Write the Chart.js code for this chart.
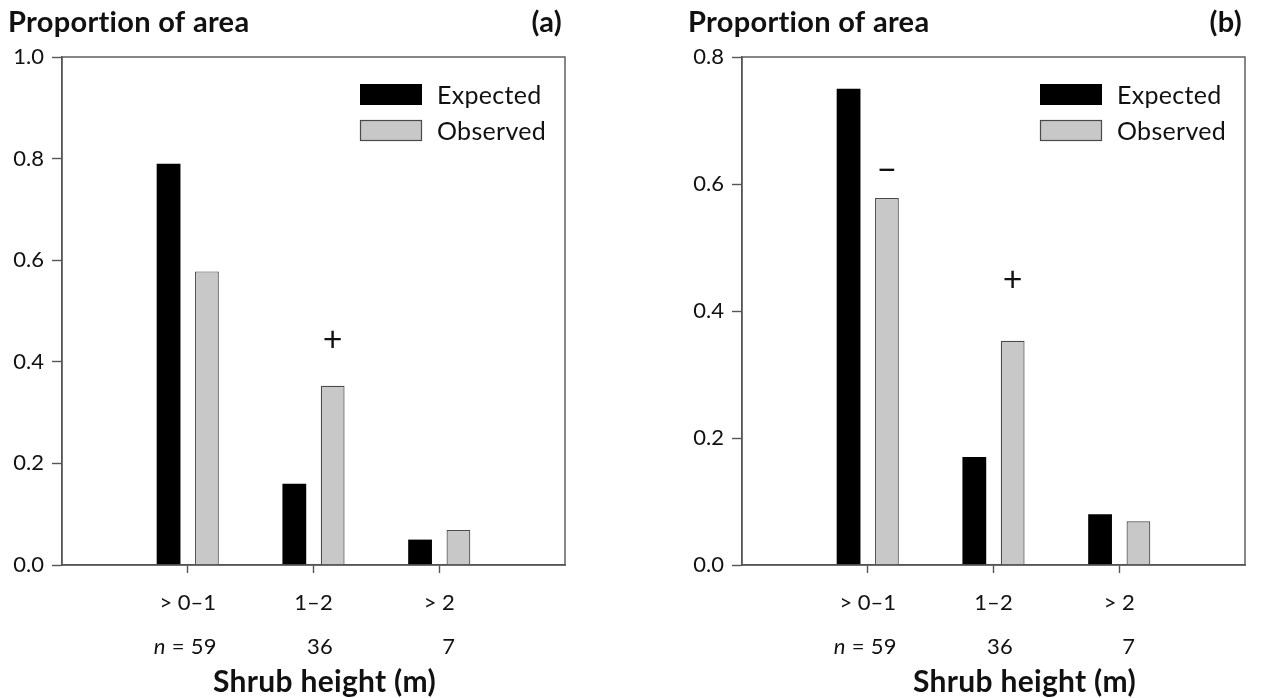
<!DOCTYPE html>
<html>
<head>
<meta charset="utf-8">
<script src="https://cdn.jsdelivr.net/npm/chart.js@4.4.0/dist/chart.umd.min.js"></script>
<style>
  html, body { margin: 0; padding: 0; background: #fff; }
  .panel { position: absolute; top: 0; width: 582px; height: 698px; }
  #wrapA { left: 0; }
  #wrapB { left: 680px; }
</style>
</head>
<body>
<div class="panel" id="wrapA"><canvas id="chartA" width="582" height="698"></canvas></div>
<div class="panel" id="wrapB"><canvas id="chartB" width="582" height="698"></canvas></div>
<script>
// Shrub height classes and number of plots in each
const categories = ['> 0–1', '1–2', '> 2'];
const sampleSizes = ['59', '36', '7'];

// Panel (a)
const expectedA = [0.79, 0.16, 0.05];
const observedA = [0.578, 0.353, 0.069];
const yTicksA = [0, 0.2, 0.4, 0.6, 0.8, 1.0];
const signsA = [null, '+', null];
const signLevelsA = [null, 0.443, null];

// Panel (b)
const expectedB = [0.75, 0.17, 0.08];
const observedB = [0.578, 0.353, 0.069];
const yTicksB = [0, 0.2, 0.4, 0.6, 0.8];
const signsB = ['−', '+', null];
const signLevelsB = [0.62, 0.448, null];

const FONT = "Lato, 'Open Sans', 'DejaVu Sans', sans-serif";
const INK = '#111';
const LINE = '#555';

const panels = [
  { id: 'chartA', tag: '(a)', expected: expectedA, observed: observedA,
    yTicks: yTicksA, signs: signsA, signLevels: signLevelsA, xTitleShift: 11 },
  { id: 'chartB', tag: '(b)', expected: expectedB, observed: observedB,
    yTicks: yTicksB, signs: signsB, signLevels: signLevelsB, xTitleShift: 31 }
];

// Frame, headings, legend, significance signs, sample sizes and axis title
function decorations(p) {
  return {
    id: 'decor_' + p.id,
    afterDatasetsDraw(chart) {
      const { ctx, chartArea: a, scales } = chart;
      const xs = scales.x, ys = scales.y;
      ctx.save();
      ctx.letterSpacing = '0.3px';

      // box round the plotting area
      ctx.strokeStyle = LINE;
      ctx.lineWidth = 1.4;
      ctx.strokeRect(a.left, a.top, a.right - a.left, a.bottom - a.top);

      // headings
      ctx.fillStyle = INK;
      ctx.textBaseline = 'alphabetic';
      ctx.font = 'bold 29px ' + FONT;
      ctx.textAlign = 'left';
      ctx.fillText('Proportion of area', a.left - 54, 32);
      ctx.textAlign = 'right';
      ctx.fillText(p.tag, a.right - 3, 32);

      // legend
      const lx = a.left + 298, boxW = 62, boxH = 21;
      const rows = [{ y: 84 }, { y: 120 }];
      chart.data.datasets.forEach((ds, i) => {
        const y = rows[i].y;
        ctx.fillStyle = ds.backgroundColor;
        ctx.fillRect(lx, y, boxW, boxH);
        if (ds.borderWidth) {
          ctx.strokeStyle = ds.borderColor;
          ctx.lineWidth = 1.2;
          ctx.strokeRect(lx + 0.5, y + 0.5, boxW - 1, boxH - 1);
        }
        ctx.fillStyle = INK;
        ctx.font = '25px ' + FONT;
        ctx.textAlign = 'left';
        ctx.textBaseline = 'middle';
        ctx.fillText(ds.label, lx + boxW + 15, y + boxH / 2 + 1);
      });

      // significance signs above the observed bars
      const obsMeta = chart.getDatasetMeta(1);
      ctx.font = '34px ' + FONT;
      ctx.textAlign = 'center';
      ctx.textBaseline = 'middle';
      ctx.fillStyle = INK;
      p.signs.forEach((s, i) => {
        if (!s) return;
        const bar = obsMeta.data[i + 1];
        ctx.fillText(s, bar.x, ys.getPixelForValue(p.signLevels[i]));
      });

      // sample sizes, right-aligned under the class labels
      const nY = a.bottom + 82;
      categories.forEach((c, i) => {
        ctx.font = '22px ' + FONT;
        const cx = xs.getPixelForValue(i + 1);
        const right = cx + ctx.measureText(c).width / 2;
        ctx.textAlign = 'right';
        ctx.textBaseline = 'middle';
        const num = (i === 0 ? ' = ' : '') + sampleSizes[i];
        ctx.fillText(num, right, nY);
        if (i === 0) {
          const w = ctx.measureText(num).width;
          ctx.font = 'italic 22px ' + FONT;
          ctx.fillText('n', right - w, nY);
        }
      });

      // x-axis title
      ctx.font = 'bold 30px ' + FONT;
      ctx.textAlign = 'center';
      ctx.textBaseline = 'middle';
      ctx.fillText('Shrub height (m)', (a.left + a.right) / 2 + p.xTitleShift, a.bottom + 117);

      ctx.restore();
    }
  };
}

panels.forEach(p => {
  const yMax = p.yTicks[p.yTicks.length - 1];
  new Chart(document.getElementById(p.id), {
    type: 'bar',
    data: {
      labels: ['', ...categories, ''],
      datasets: [
        { label: 'Expected', data: [null, ...p.expected, null],
          backgroundColor: '#000000', borderColor: '#000000', borderWidth: 0 },
        { label: 'Observed', data: [null, ...p.observed, null],
          backgroundColor: '#c8c8c8', borderColor: '#4a4a4a', borderWidth: 1.2 }
      ]
    },
    options: {
      responsive: false,
      animation: false,
      devicePixelRatio: 1,
      layout: { padding: { top: 57, right: 10, left: 0, bottom: 0 } },
      datasets: { bar: { categoryPercentage: 0.61, barPercentage: 0.62 } },
      plugins: { legend: { display: false }, tooltip: { enabled: false }, title: { display: false } },
      scales: {
        x: {
          offset: false,
          grid: {
            offset: false, drawOnChartArea: false, drawTicks: true, tickLength: 8, tickWidth: 1.4,
            tickColor: c => (c.tick && c.tick.label) ? LINE : 'rgba(0,0,0,0)'
          },
          border: { display: true, color: LINE, width: 1.4 },
          ticks: { autoSkip: false, maxRotation: 0, padding: 17, color: INK, font: { family: FONT, size: 22 } },
          afterFit: s => { s.height = 133; }
        },
        y: {
          min: 0, max: yMax,
          afterBuildTicks: s => { s.ticks = p.yTicks.map(v => ({ value: v })); },
          grid: { drawOnChartArea: false, drawTicks: true, tickLength: 10, tickWidth: 1.4, tickColor: LINE },
          border: { display: true, color: LINE, width: 1.4 },
          ticks: { padding: 8, color: INK, font: { family: FONT, size: 22 }, callback: v => Number(v).toFixed(1) },
          afterFit: s => { s.width = 62; }
        }
      }
    },
    plugins: [decorations(p)]
  });
});
</script>
</body>
</html>
